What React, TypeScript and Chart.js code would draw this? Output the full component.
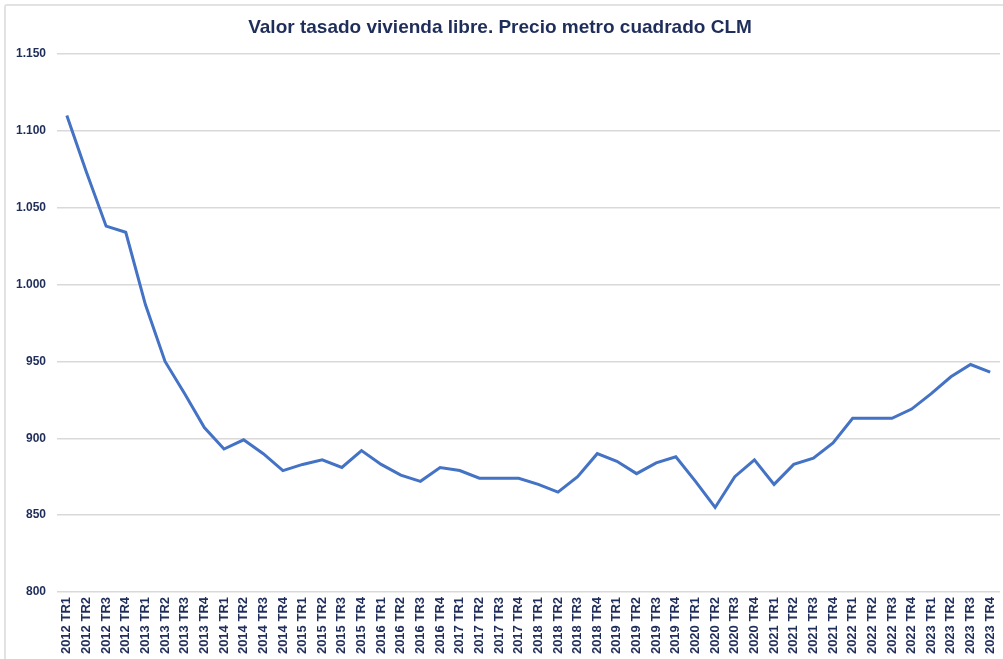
import React, { useEffect, useRef } from "react";
import { Chart, registerables } from "chart.js";

Chart.register(...registerables);

const titleText = "Valor tasado vivienda libre. Precio metro cuadrado CLM";

const years = ["2012", "2013", "2014", "2015", "2016", "2017", "2018", "2019", "2020", "2021", "2022", "2023"];
const quarters = ["TR1", "TR2", "TR3", "TR4"];
const categories = years.flatMap((y) => quarters.map((q) => `${y} ${q}`));

const pricePerSqm = [
  1110, 1073, 1038, 1034,
  987, 950, 929, 907,
  893, 899, 890, 879,
  883, 886, 881, 892,
  883, 876, 872, 881,
  879, 874, 874, 874,
  870, 865, 875, 890,
  885, 877, 884, 888,
  872, 855, 875, 886,
  870, 883, 887, 897,
  913, 913, 913, 919,
  929, 940, 948, 943,
];

const yMin = 800;
const yMax = 1150;
const yStep = 50;

const navy = "#1F2D5A";
const fontFamily = 'Arial, "Liberation Sans", sans-serif';

function formatThousands(v: number): string {
  const s = Math.round(v).toString();
  return s.replace(/\B(?=(\d{3})+(?!\d))/g, ".");
}

export default function App() {
  const canvasRef = useRef<HTMLCanvasElement | null>(null);

  useEffect(() => {
    const canvas = canvasRef.current;
    if (!canvas) return;
    const chart = new Chart(canvas, {
      type: "line",
      data: {
        labels: categories,
        datasets: [
          {
            data: pricePerSqm,
            borderColor: "#4472C4",
            backgroundColor: "#4472C4",
            borderWidth: 3,
            pointRadius: 0,
            tension: 0,
            fill: false,
          },
        ],
      },
      options: {
        animation: false,
        responsive: false,
        maintainAspectRatio: false,
        layout: { padding: { left: 0, right: 3, top: 0, bottom: 0 } },
        plugins: {
          legend: { display: false },
          tooltip: { enabled: false },
          title: {
            display: true,
            text: titleText,
            color: navy,
            font: { family: fontFamily, size: 19, weight: "bold" },
            padding: { top: 16, bottom: 15.2 },
          },
        },
        scales: {
          x: {
            offset: true,
            grid: { display: false, drawTicks: false },
            border: { display: false },
            ticks: {
              autoSkip: false,
              maxRotation: 90,
              minRotation: 90,
              padding: 5,
              color: navy,
              font: { family: fontFamily, size: 13, weight: "bold" },
            },
            afterFit: (scale: any) => {
              scale.height = 67;
              scale.paddingLeft = 0;
              scale.paddingRight = 0;
            },
          },
          y: {
            min: yMin,
            max: yMax,
            grid: { color: "#d9d9d9", lineWidth: 1.5, drawTicks: false },
            border: { display: false },
            ticks: {
              stepSize: yStep,
              padding: 11,
              color: navy,
              font: { family: fontFamily, size: 12, weight: "bold" },
              callback: (v: any) => formatThousands(Number(v)),
            },
            afterFit: (scale: any) => {
              scale.width = 57;
              scale.paddingTop = 0;
              scale.paddingBottom = 0;
            },
          },
        },
      },
    });
    return () => chart.destroy();
  }, []);

  return (
    <div
      style={{
        position: "fixed",
        left: 0,
        top: 0,
        width: 1003,
        height: 659,
        overflow: "hidden",
        background: "#ffffff",
      }}
    >
      <div
        style={{
          position: "absolute",
          left: 4,
          top: 4,
          width: 1020,
          height: 680,
          border: "2px solid #e2e2e2",
          borderRadius: 3,
        }}
      />
      <canvas
        ref={canvasRef}
        width={1003}
        height={659}
        style={{ position: "absolute", left: 0, top: 0, width: 1003, height: 659 }}
      />
    </div>
  );
}
